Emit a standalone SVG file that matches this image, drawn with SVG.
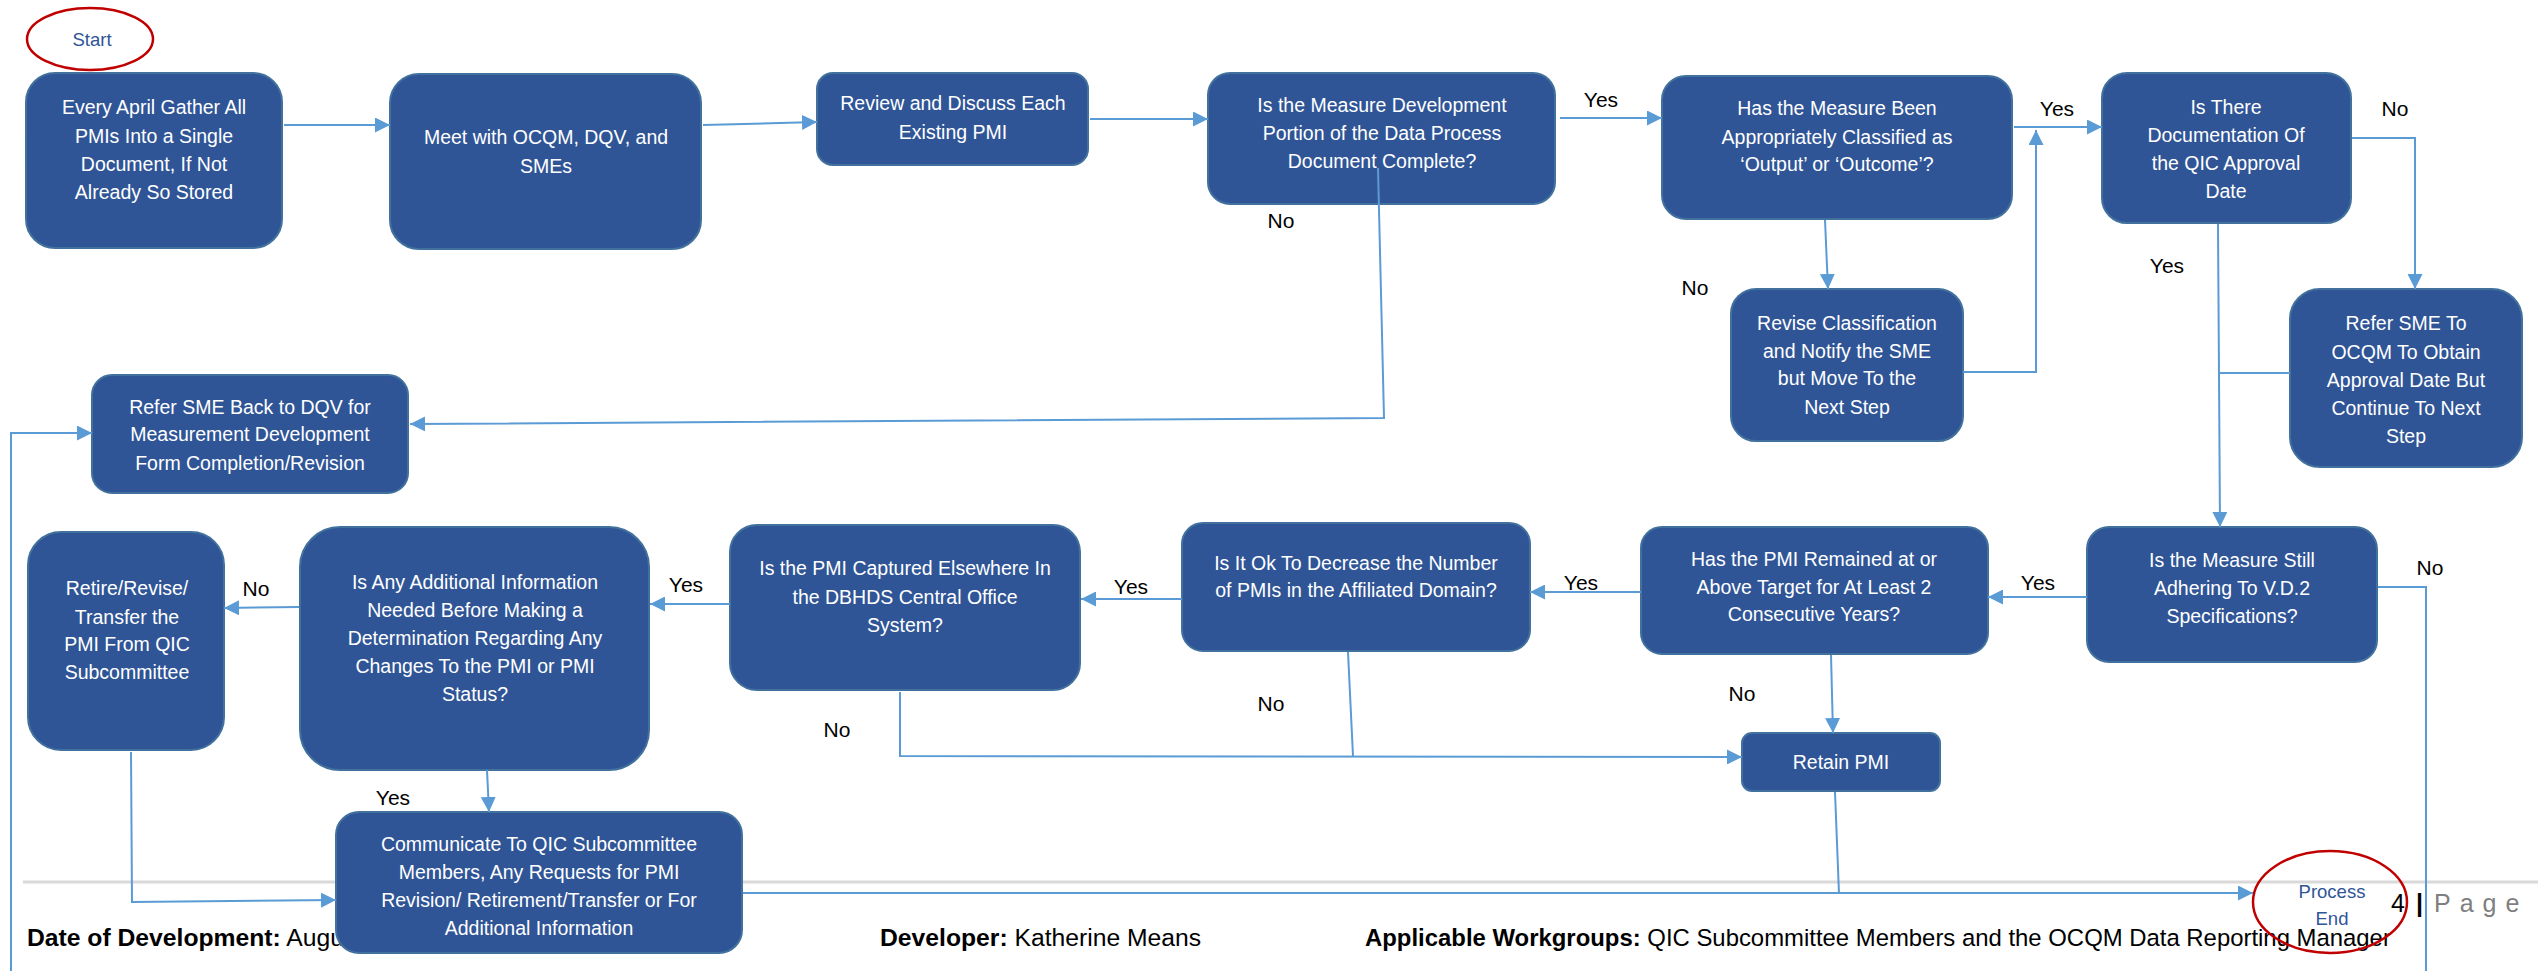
<svg xmlns="http://www.w3.org/2000/svg" width="2538" height="971" viewBox="0 0 2538 971">
<style>
.box{fill:#2F5597;stroke:#41719C;stroke-width:2}
.bt{fill:#FFFFFF;font-family:"Liberation Sans",Arial,sans-serif;font-size:19.5px;text-anchor:middle}
.term{fill:none;stroke:#C00000;stroke-width:2.5}
.tt{fill:#2F5597;font-family:"Liberation Sans",Arial,sans-serif;font-size:18.5px;text-anchor:middle}
.lbl{fill:#000000;font-family:"Liberation Sans",Arial,sans-serif;font-size:21px;text-anchor:middle}
.cn{fill:none;stroke:#5B9BD5;stroke-width:2}
.ca{fill:none;stroke:#5B9BD5;stroke-width:2;marker-end:url(#ah)}
.ft{fill:#000000;font-family:"Liberation Sans",Arial,sans-serif;font-size:24.7px}
</style>
<defs>
<marker id="ah" markerUnits="userSpaceOnUse" markerWidth="15" markerHeight="15" viewBox="0 0 15 15" refX="15" refY="7.5" orient="auto">
<path d="M0,0 L15,7.5 L0,15 z" fill="#5B9BD5"/>
</marker>
</defs>
<rect x="0" y="0" width="2538" height="971" fill="#FFFFFF"/>

<g id="footer">
<line x1="23" y1="882" x2="2538" y2="882" stroke="#D9D9D9" stroke-width="3"/>
<text class="ft" x="27" y="946"><tspan font-weight="bold">Date of Development:</tspan> Augus</text>
<text class="ft" x="880" y="946"><tspan font-weight="bold">Developer:</tspan> Katherine Means</text>
<text class="ft" x="1365" y="946" style="font-size:23.9px"><tspan font-weight="bold">Applicable Workgroups:</tspan> QIC Subcommittee Members and the OCQM Data Reporting Manager</text>
<text class="ft" x="2391" y="912" style="font-size:25px">4<tspan x="2416" font-weight="bold">|</tspan><tspan x="2434" fill="#7F7F7F" letter-spacing="9">Page</tspan></text>
</g>

<g id="n_start"><ellipse class="term" cx="90" cy="39" rx="63" ry="31"/><text class="tt" x="92" y="46">Start</text></g>

<g id="n_gather"><rect class="box" x="26" y="73" width="256" height="175" rx="29"/>
<text class="bt"><tspan x="154" y="114">Every April Gather All</tspan><tspan x="154" y="143">PMIs Into a Single</tspan><tspan x="154" y="171">Document, If Not</tspan><tspan x="154" y="199">Already So Stored</tspan></text></g>

<g id="n_meet"><rect class="box" x="390" y="74" width="311" height="175" rx="29"/>
<text class="bt"><tspan x="546" y="144">Meet with OCQM, DQV, and</tspan><tspan x="546" y="173">SMEs</tspan></text></g>

<g id="n_review"><rect class="box" x="817" y="73" width="271" height="92" rx="16"/>
<text class="bt"><tspan x="953" y="110">Review and Discuss Each</tspan><tspan x="953" y="139">Existing PMI</tspan></text></g>

<g id="n_devcomplete"><rect class="box" x="1208" y="73" width="347" height="131" rx="22"/>
<text class="bt"><tspan x="1382" y="112">Is the Measure Development</tspan><tspan x="1382" y="140">Portion of the Data Process</tspan><tspan x="1382" y="168">Document Complete?</tspan></text></g>

<g id="n_classified"><rect class="box" x="1662" y="76" width="350" height="143" rx="24"/>
<text class="bt"><tspan x="1837" y="115">Has the Measure Been</tspan><tspan x="1837" y="144">Appropriately Classified as</tspan><tspan x="1837" y="171">‘Output’ or ‘Outcome’?</tspan></text></g>

<g id="n_qicdate"><rect class="box" x="2102" y="73" width="249" height="150" rx="25"/>
<text class="bt"><tspan x="2226" y="114">Is There</tspan><tspan x="2226" y="142">Documentation Of</tspan><tspan x="2226" y="170">the QIC Approval</tspan><tspan x="2226" y="198">Date</tspan></text></g>

<g id="n_revise"><rect class="box" x="1731" y="289" width="232" height="152" rx="25"/>
<text class="bt"><tspan x="1847" y="330">Revise Classification</tspan><tspan x="1847" y="358">and Notify the SME</tspan><tspan x="1847" y="385">but Move To the</tspan><tspan x="1847" y="414">Next Step</tspan></text></g>

<g id="n_refer_ocqm"><rect class="box" x="2290" y="289" width="232" height="178" rx="30"/>
<text class="bt"><tspan x="2406" y="330">Refer SME To</tspan><tspan x="2406" y="359">OCQM To Obtain</tspan><tspan x="2406" y="387">Approval Date But</tspan><tspan x="2406" y="415">Continue To Next</tspan><tspan x="2406" y="443">Step</tspan></text></g>

<g id="n_refer_dqv"><rect class="box" x="92" y="375" width="316" height="118" rx="20"/>
<text class="bt"><tspan x="250" y="414">Refer SME Back to DQV for</tspan><tspan x="250" y="441">Measurement Development</tspan><tspan x="250" y="470">Form Completion/Revision</tspan></text></g>

<g id="n_adhering"><rect class="box" x="2087" y="527" width="290" height="135" rx="22"/>
<text class="bt"><tspan x="2232" y="567">Is the Measure Still</tspan><tspan x="2232" y="595">Adhering To V.D.2</tspan><tspan x="2232" y="623">Specifications?</tspan></text></g>

<g id="n_target"><rect class="box" x="1641" y="527" width="347" height="127" rx="21"/>
<text class="bt"><tspan x="1814" y="566">Has the PMI Remained at or</tspan><tspan x="1814" y="594">Above Target for At Least 2</tspan><tspan x="1814" y="621">Consecutive Years?</tspan></text></g>

<g id="n_decrease"><rect class="box" x="1182" y="523" width="348" height="128" rx="21"/>
<text class="bt"><tspan x="1356" y="570">Is It Ok To Decrease the Number</tspan><tspan x="1356" y="597">of PMIs in the Affiliated Domain?</tspan></text></g>

<g id="n_captured"><rect class="box" x="730" y="525" width="350" height="165" rx="27"/>
<text class="bt"><tspan x="905" y="575">Is the PMI Captured Elsewhere In</tspan><tspan x="905" y="604">the DBHDS Central Office</tspan><tspan x="905" y="632">System?</tspan></text></g>

<g id="n_additional"><rect class="box" x="300" y="527" width="349" height="243" rx="40"/>
<text class="bt"><tspan x="475" y="589">Is Any Additional Information</tspan><tspan x="475" y="617">Needed Before Making a</tspan><tspan x="475" y="645">Determination Regarding Any</tspan><tspan x="475" y="673">Changes To the PMI or PMI</tspan><tspan x="475" y="701">Status?</tspan></text></g>

<g id="n_retire"><rect class="box" x="28" y="532" width="196" height="218" rx="33"/>
<text class="bt"><tspan x="127" y="595">Retire/Revise/</tspan><tspan x="127" y="624">Transfer the</tspan><tspan x="127" y="651">PMI From QIC</tspan><tspan x="127" y="679">Subcommittee</tspan></text></g>

<g id="n_retain"><rect class="box" x="1742" y="733" width="198" height="58" rx="10"/>
<text class="bt"><tspan x="1841" y="769">Retain PMI</tspan></text></g>

<g id="n_communicate"><rect class="box" x="336" y="812" width="406" height="141" rx="23"/>
<text class="bt"><tspan x="539" y="851">Communicate To QIC Subcommittee</tspan><tspan x="539" y="879">Members, Any Requests for PMI</tspan><tspan x="539" y="907">Revision/ Retirement/Transfer or For</tspan><tspan x="539" y="935">Additional Information</tspan></text></g>

<g id="n_end"><ellipse class="term" cx="2330" cy="902" rx="77" ry="51"/>
<text class="tt"><tspan x="2332" y="898">Process</tspan><tspan x="2332" y="925">End</tspan></text></g>

<g id="connectors">
<path class="ca" d="M284,125 L390,125"/>
<path class="ca" d="M703,125 L817,122"/>
<path class="ca" d="M1090,119 L1208,119"/>
<path class="ca" d="M1560,118 L1662,118"/>
<path class="ca" d="M2014,127 L2102,127"/>
<path class="ca" d="M1378,168 L1384,418 L410,424"/>
<path class="ca" d="M1825,220 L1828,289"/>
<path class="ca" d="M1963,372 L2036,372 L2036,130"/>
<path class="ca" d="M2352,138 L2415,138 L2415,289"/>
<path class="ca" d="M2218,224 L2220,527"/>
<path class="cn" d="M2290,373 L2218,373"/>
<path class="ca" d="M2087,597 L1988,597"/>
<path class="cn" d="M2378,587 L2426,587 L2426,971"/>
<path class="ca" d="M1641,592 L1530,592"/>
<path class="ca" d="M1831,655 L1833,733"/>
<path class="ca" d="M1182,599 L1081,599"/>
<path class="cn" d="M1348,652 L1353,756"/>
<path class="ca" d="M900,692 L900,756 L1742,757"/>
<path class="ca" d="M730,604 L650,604"/>
<path class="ca" d="M299,607 L224,608"/>
<path class="ca" d="M487,770 L489,812"/>
<path class="ca" d="M131,752 L132,902 L336,900"/>
<path class="ca" d="M743,893 L2253,893"/>
<path class="cn" d="M1835,792 L1839,894"/>
<path class="ca" d="M11,971 L11,433 L92,433"/>
</g>

<g id="labels">
<text class="lbl" x="1601" y="107">Yes</text>
<text class="lbl" x="1281" y="228">No</text>
<text class="lbl" x="1695" y="295">No</text>
<text class="lbl" x="2057" y="116">Yes</text>
<text class="lbl" x="2395" y="116">No</text>
<text class="lbl" x="2167" y="273">Yes</text>
<text class="lbl" x="2430" y="575">No</text>
<text class="lbl" x="2038" y="590">Yes</text>
<text class="lbl" x="1581" y="590">Yes</text>
<text class="lbl" x="1742" y="701">No</text>
<text class="lbl" x="1131" y="594">Yes</text>
<text class="lbl" x="1271" y="711">No</text>
<text class="lbl" x="837" y="737">No</text>
<text class="lbl" x="686" y="592">Yes</text>
<text class="lbl" x="256" y="596">No</text>
<text class="lbl" x="393" y="805">Yes</text>
</g>
</svg>
